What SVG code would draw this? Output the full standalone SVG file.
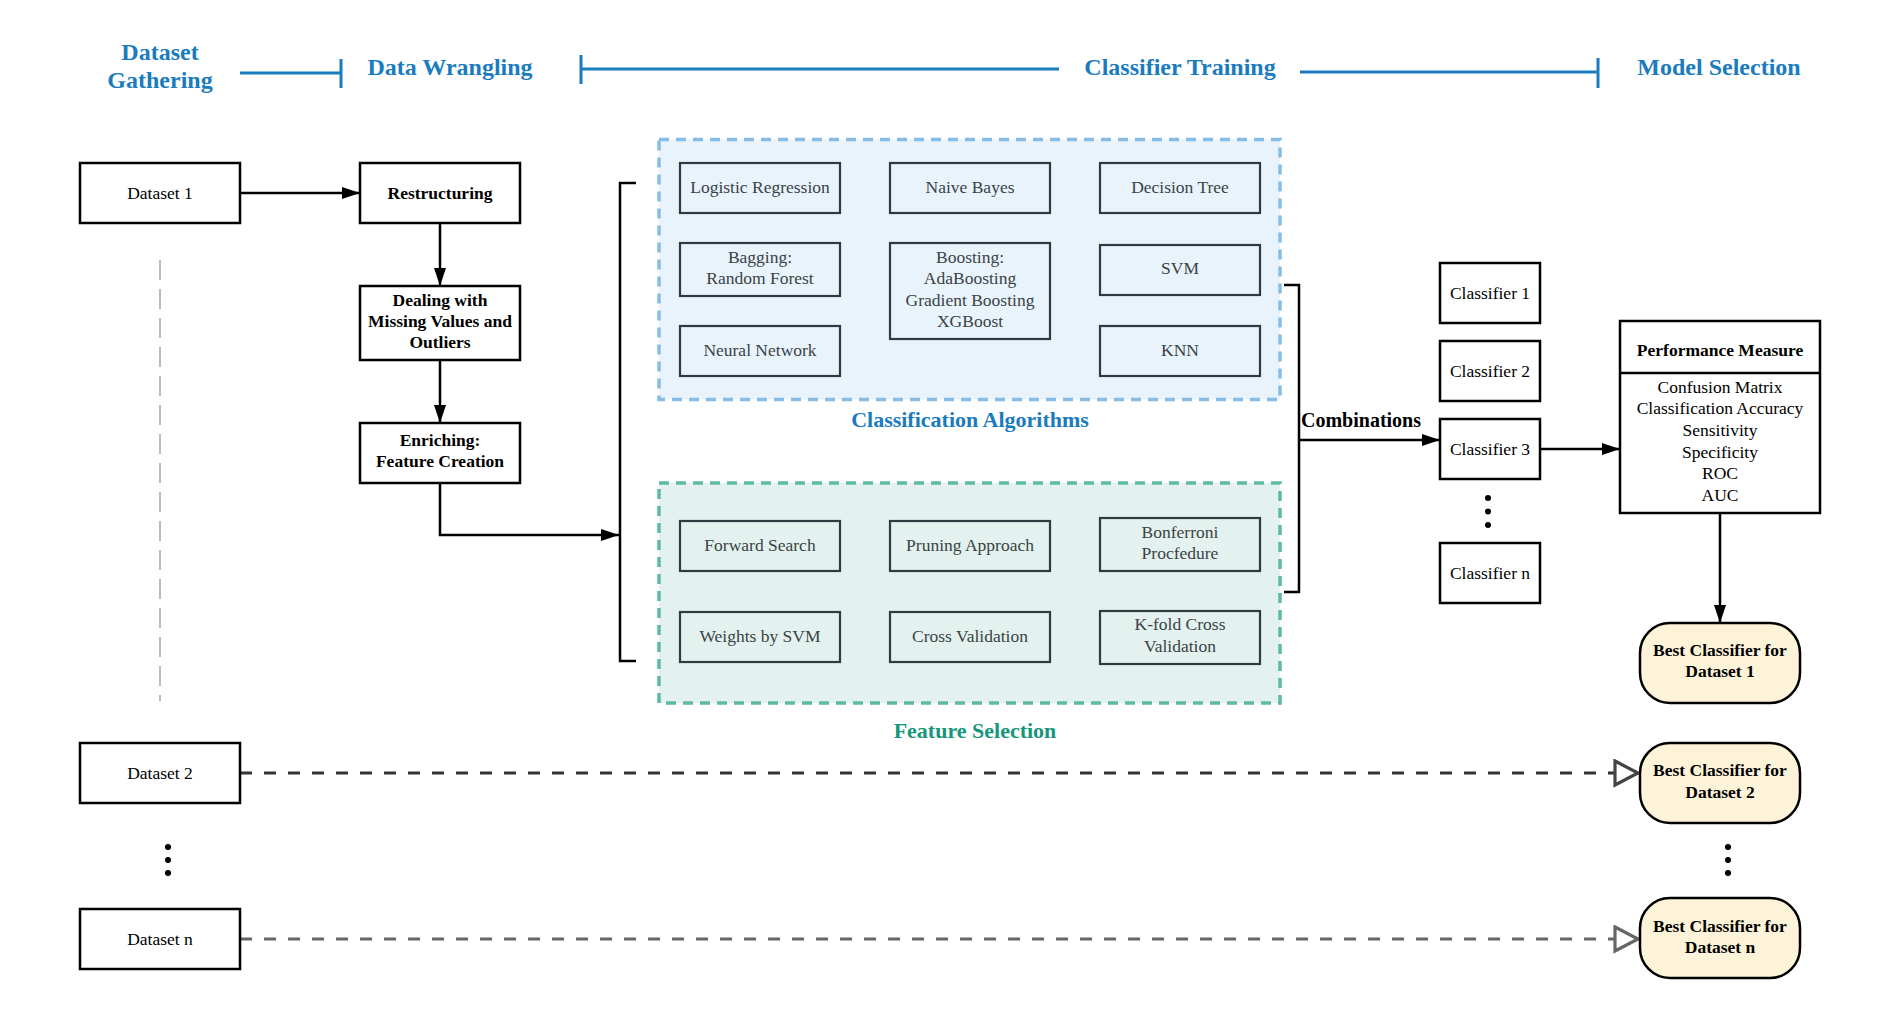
<svg xmlns="http://www.w3.org/2000/svg" width="1880" height="1018" viewBox="0 0 1880 1018">
<defs>
<marker id="arr" markerUnits="userSpaceOnUse" markerWidth="18" markerHeight="12" refX="18" refY="6" orient="auto"><path d="M0,0 L18,6 L0,12 z" fill="#000"/></marker>
<marker id="tri2" markerUnits="userSpaceOnUse" markerWidth="30" markerHeight="30" refX="26" refY="14" orient="auto"><path d="M3,2 L26,14 L3,26 z" fill="#fff" stroke="#444" stroke-width="3.2"/></marker>
<marker id="trin" markerUnits="userSpaceOnUse" markerWidth="30" markerHeight="30" refX="26" refY="14" orient="auto"><path d="M3,2 L26,14 L3,26 z" fill="#fff" stroke="#666" stroke-width="3.2"/></marker>
</defs>
<style>
text{font-family:"Liberation Serif","Times New Roman",serif;text-anchor:middle}
.hd{font-size:24px;font-weight:bold;fill:#1a7bbf}
.hl{stroke:#1a7bbf;stroke-width:3;fill:none}
.nb{fill:#fff;stroke:#000;stroke-width:2.5}
.t{font-size:17.5px;fill:#000}
.tb{font-size:17.5px;font-weight:bold;fill:#000}
.ib{fill:none;stroke:#2f3b3f;stroke-width:2.2}
.ti{font-size:17.5px;fill:#3b4246}
.cn{fill:none;stroke:#000;stroke-width:2.5}
.best{fill:#fdf3d8;stroke:#000;stroke-width:2.5}
.dot{fill:#000}
</style>
<rect width="1880" height="1018" fill="#fff"/>

<g id="header">
<text class="hd" x="160" y="60">Dataset</text>
<text class="hd" x="160" y="88">Gathering</text>
<text class="hd" x="450" y="75">Data Wrangling</text>
<text class="hd" x="1180" y="75">Classifier Training</text>
<text class="hd" x="1719" y="75">Model Selection</text>
<path class="hl" d="M240,73 H341 M341,59 V88 M581,55 V84 M581,69 H1059 M1300,72 H1598 M1598,58 V88"/>
</g>

<g id="group-classification">
<rect x="659" y="139.5" width="621" height="260" fill="#e8f3fb" stroke="#85bde6" stroke-width="3.5" stroke-dasharray="10 7"/>
<text x="970" y="427" style="font-size:22px;font-weight:bold;fill:#1a7bbf">Classification Algorithms</text>
</g>
<g id="group-feature">
<rect x="659" y="483" width="621" height="220" fill="#e3f2ee" stroke="#5dbba3" stroke-width="3.5" stroke-dasharray="10 7"/>
<text x="975" y="738" style="font-size:22px;font-weight:bold;fill:#17967a">Feature Selection</text>
</g>

<g id="connectors">
<path class="cn" d="M240,193 H360" marker-end="url(#arr)"/>
<path class="cn" d="M440,223 V286" marker-end="url(#arr)"/>
<path class="cn" d="M440,360 V423" marker-end="url(#arr)"/>
<path class="cn" d="M440,483 V535 H619" marker-end="url(#arr)"/>
<path class="cn" d="M636,183 H620 V661 H636"/>
<path class="cn" d="M1284,285 H1299 V592 H1284"/>
<path class="cn" d="M1299,440 H1440" marker-end="url(#arr)"/>
<path class="cn" d="M1540,449 H1620" marker-end="url(#arr)"/>
<path class="cn" d="M1720,513 V623" marker-end="url(#arr)"/>
<path d="M240,773 H1638" fill="none" stroke="#333" stroke-width="3" stroke-dasharray="12 12" marker-end="url(#tri2)"/>
<path d="M240,939 H1638" fill="none" stroke="#666" stroke-width="3" stroke-dasharray="12 12" marker-end="url(#trin)"/>
<path d="M160,260 V701" fill="none" stroke="#bbb" stroke-width="2" stroke-dasharray="20 9"/>
</g>

<g id="dataset1"><rect class="nb" x="80" y="163" width="160" height="60"/><text class="t" x="160" y="199">Dataset 1</text></g>
<g id="restructuring"><rect class="nb" x="360" y="163" width="160" height="60"/><text class="tb" x="440" y="199">Restructuring</text></g>
<g id="dealing"><rect class="nb" x="360" y="286" width="160" height="74"/><text class="tb" x="440" y="306">Dealing with</text><text class="tb" x="440" y="327">Missing Values and</text><text class="tb" x="440" y="348">Outliers</text></g>
<g id="enriching"><rect class="nb" x="360" y="423" width="160" height="60"/><text class="tb" x="440" y="446">Enriching:</text><text class="tb" x="440" y="467">Feature Creation</text></g>
<g id="dataset2"><rect class="nb" x="80" y="743" width="160" height="60"/><text class="t" x="160" y="779">Dataset 2</text></g>
<g id="datasetn"><rect class="nb" x="80" y="909" width="160" height="60"/><text class="t" x="160" y="945">Dataset n</text></g>
<g id="dots-left"><circle class="dot" cx="168" cy="847" r="3"/><circle class="dot" cx="168" cy="860" r="3"/><circle class="dot" cx="168" cy="873" r="3"/></g>

<g id="logistic"><rect class="ib" x="680" y="163" width="160" height="50"/><text class="ti" x="760" y="193">Logistic Regression</text></g>
<g id="naive"><rect class="ib" x="890" y="163" width="160" height="50"/><text class="ti" x="970" y="193">Naive Bayes</text></g>
<g id="dtree"><rect class="ib" x="1100" y="163" width="160" height="50"/><text class="ti" x="1180" y="193">Decision Tree</text></g>
<g id="bagging"><rect class="ib" x="680" y="243" width="160" height="53"/><text class="ti" x="760" y="263">Bagging:</text><text class="ti" x="760" y="284">Random Forest</text></g>
<g id="boosting"><rect class="ib" x="890" y="243" width="160" height="96"/><text class="ti" x="970" y="263">Boosting:</text><text class="ti" x="970" y="284">AdaBoosting</text><text class="ti" x="970" y="306">Gradient Boosting</text><text class="ti" x="970" y="327">XGBoost</text></g>
<g id="svm"><rect class="ib" x="1100" y="245" width="160" height="50"/><text class="ti" x="1180" y="274">SVM</text></g>
<g id="neural"><rect class="ib" x="680" y="326" width="160" height="50"/><text class="ti" x="760" y="356">Neural Network</text></g>
<g id="knn"><rect class="ib" x="1100" y="326" width="160" height="50"/><text class="ti" x="1180" y="356">KNN</text></g>

<g id="forward"><rect class="ib" x="680" y="521" width="160" height="50"/><text class="ti" x="760" y="551">Forward Search</text></g>
<g id="pruning"><rect class="ib" x="890" y="521" width="160" height="50"/><text class="ti" x="970" y="551">Pruning Approach</text></g>
<g id="bonferroni"><rect class="ib" x="1100" y="518" width="160" height="53"/><text class="ti" x="1180" y="538">Bonferroni</text><text class="ti" x="1180" y="559">Procfedure</text></g>
<g id="weights"><rect class="ib" x="680" y="612" width="160" height="50"/><text class="ti" x="760" y="642">Weights by SVM</text></g>
<g id="crossval"><rect class="ib" x="890" y="612" width="160" height="50"/><text class="ti" x="970" y="642">Cross Validation</text></g>
<g id="kfold"><rect class="ib" x="1100" y="611" width="160" height="53"/><text class="ti" x="1180" y="630">K-fold Cross</text><text class="ti" x="1180" y="652">Validation</text></g>

<g id="combinations-label"><text x="1301" y="427" style="font-size:20px;font-weight:bold;fill:#000;text-anchor:start">Combinations</text></g>

<g id="classifier1"><rect class="nb" x="1440" y="263" width="100" height="60"/><text class="t" x="1490" y="299">Classifier 1</text></g>
<g id="classifier2"><rect class="nb" x="1440" y="341" width="100" height="60"/><text class="t" x="1490" y="377">Classifier 2</text></g>
<g id="classifier3"><rect class="nb" x="1440" y="419" width="100" height="60"/><text class="t" x="1490" y="455">Classifier 3</text></g>
<g id="classifiern"><rect class="nb" x="1440" y="543" width="100" height="60"/><text class="t" x="1490" y="579">Classifier n</text></g>
<g id="dots-classifiers"><circle class="dot" cx="1488" cy="498" r="3"/><circle class="dot" cx="1488" cy="511.5" r="3"/><circle class="dot" cx="1488" cy="525" r="3"/></g>

<g id="performance">
<rect class="nb" x="1620" y="321" width="200" height="192"/>
<line x1="1620" y1="373" x2="1820" y2="373" stroke="#000" stroke-width="2.5"/>
<text class="tb" x="1720" y="356">Performance Measure</text>
<text class="t" x="1720" y="393">Confusion Matrix</text>
<text class="t" x="1720" y="414">Classification Accuracy</text>
<text class="t" x="1720" y="436">Sensitivity</text>
<text class="t" x="1720" y="458">Specificity</text>
<text class="t" x="1720" y="479">ROC</text>
<text class="t" x="1720" y="501">AUC</text>
</g>

<g id="best1"><rect class="best" x="1640" y="623" width="160" height="80" rx="30" ry="30"/><text class="tb" x="1720" y="656">Best Classifier for</text><text class="tb" x="1720" y="677">Dataset 1</text></g>
<g id="best2"><rect class="best" x="1640" y="743" width="160" height="80" rx="30" ry="30"/><text class="tb" x="1720" y="776">Best Classifier for</text><text class="tb" x="1720" y="798">Dataset 2</text></g>
<g id="bestn"><rect class="best" x="1640" y="898" width="160" height="80" rx="30" ry="30"/><text class="tb" x="1720" y="932">Best Classifier for</text><text class="tb" x="1720" y="953">Dataset n</text></g>
<g id="dots-best"><circle class="dot" cx="1728" cy="847" r="3"/><circle class="dot" cx="1728" cy="860" r="3"/><circle class="dot" cx="1728" cy="873" r="3"/></g>
</svg>
